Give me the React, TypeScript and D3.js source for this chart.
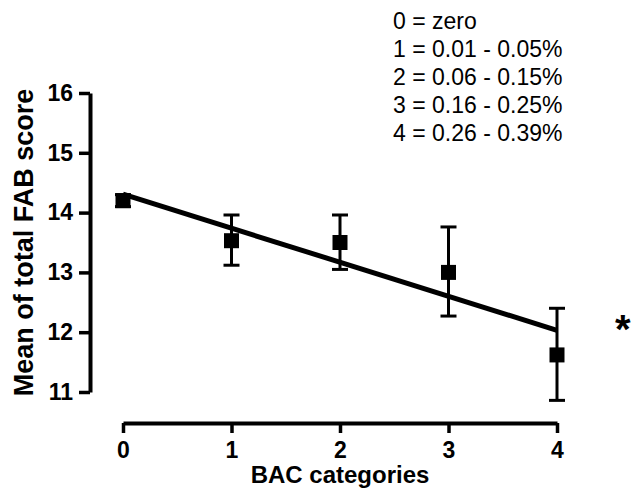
import React, { useEffect, useRef } from 'react';
import * as d3 from 'd3';

// BAC categories and mean FAB scores (± error)
const categories = [0, 1, 2, 3, 4];
const means = [14.2, 13.53, 13.5, 13.0, 11.62];
const errHigh = [14.3, 13.96, 13.96, 13.76, 12.4];
const errLow = [14.1, 13.12, 13.05, 12.27, 10.86];
const yTicks = [11, 12, 13, 14, 15, 16];
const legendLines = ['0 = zero', '1 = 0.01 - 0.05%', '2 = 0.06 - 0.15%', '3 = 0.16 - 0.25%', '4 = 0.26 - 0.39%'];

const FONT = '"Liberation Sans", Arial, sans-serif';

const App = () => {
    const svgRef = useRef<SVGSVGElement>(null);

    useEffect(() => {
        const svg = d3.select(svgRef.current);
        svg.selectAll('*').remove();

        const x = d3.scaleLinear().domain([0, 4]).range([123, 557]);
        const y = d3.scaleLinear().domain([11, 16]).range([392, 93]);

        // y axis
        const yAxis = svg.append('g')
            .attr('transform', 'translate(90,0)')
            .call(d3.axisLeft(y).tickValues(yTicks).tickFormat(d3.format('d')).tickSize(11).tickPadding(6).tickSizeOuter(0));
        yAxis.select('.domain').attr('stroke-width', 4);
        yAxis.selectAll('.tick line').attr('stroke-width', 3.5);
        yAxis.selectAll('.tick text')
            .attr('font-family', FONT).attr('font-weight', 'bold').attr('font-size', 23).attr('fill', '#000');

        // x axis
        const xAxis = svg.append('g')
            .attr('transform', 'translate(0,423)')
            .call(d3.axisBottom(x).tickValues(categories).tickFormat(d3.format('d')).tickSize(10).tickPadding(9).tickSizeOuter(0));
        xAxis.select('.domain').attr('stroke-width', 4);
        xAxis.selectAll('.tick line').attr('stroke-width', 3.5);
        xAxis.selectAll('.tick text')
            .attr('font-family', FONT).attr('font-weight', 'bold').attr('font-size', 23).attr('fill', '#000');

        // axis titles
        svg.append('text')
            .attr('transform', `translate(33,${(y(11) + y(16)) / 2}) rotate(-90)`)
            .attr('text-anchor', 'middle')
            .attr('font-family', FONT).attr('font-weight', 'bold').attr('font-size', 27)
            .text('Mean of total FAB score');

        svg.append('text')
            .attr('x', (x(0) + x(4)) / 2)
            .attr('y', 483)
            .attr('text-anchor', 'middle')
            .attr('font-family', FONT).attr('font-weight', 'bold').attr('font-size', 24)
            .text('BAC categories');

        // linear regression of the means
        const mx = d3.mean(categories) as number;
        const my = d3.mean(means) as number;
        const slope = d3.sum(categories, (c, i) => (c - mx) * (means[i] - my)) /
            d3.sum(categories, c => (c - mx) ** 2);
        const intercept = my - slope * mx;
        const fit = d3.extent(categories).map(c => ({ c: c as number, v: intercept + slope * (c as number) }));

        svg.append('path')
            .datum(fit)
            .attr('fill', 'none')
            .attr('stroke', '#000')
            .attr('stroke-width', 5)
            .attr('d', d3.line<{ c: number; v: number }>().x(d => x(d.c)).y(d => y(d.v)));

        // error bars
        const eb = svg.append('g').attr('stroke', '#000').attr('stroke-width', 3);
        categories.forEach((c, i) => {
            eb.append('line').attr('x1', x(c)).attr('x2', x(c)).attr('y1', y(errHigh[i])).attr('y2', y(errLow[i]));
            eb.append('line').attr('x1', x(c) - 8).attr('x2', x(c) + 8).attr('y1', y(errHigh[i])).attr('y2', y(errHigh[i]));
            eb.append('line').attr('x1', x(c) - 8).attr('x2', x(c) + 8).attr('y1', y(errLow[i])).attr('y2', y(errLow[i]));
        });

        // markers
        svg.append('g').selectAll('rect')
            .data(categories)
            .join('rect')
            .attr('x', d => x(d) - 7.5)
            .attr('y', (d, i) => y(means[i]) - 7.5)
            .attr('width', 15)
            .attr('height', 15)
            .attr('fill', '#000');

        // significance mark
        svg.append('text')
            .attr('x', x(4) + 58)
            .attr('y', y(11.62) - 12)
            .attr('font-family', FONT).attr('font-weight', 'bold').attr('font-size', 40)
            .text('*');

        // legend
        svg.append('g').selectAll('text')
            .data(legendLines)
            .join('text')
            .attr('x', 393)
            .attr('y', (d, i) => 29 + i * 28)
            .attr('font-family', FONT).attr('font-size', 23)
            .text(d => d);
    }, []);

    return (
        <div style={{ position: 'absolute', left: 0, top: 0 }}>
            <svg ref={svgRef} width={635} height={488} style={{ display: 'block', background: '#fff' }}></svg>
        </div>
    );
};

export default App;
